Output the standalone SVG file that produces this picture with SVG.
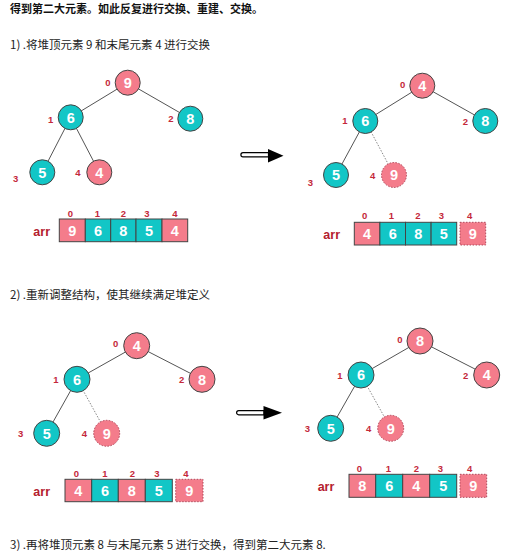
<svg xmlns="http://www.w3.org/2000/svg" width="518" height="557" viewBox="0 0 518 557">
<style>
.t{font-family:"Noto Sans CJK SC","Liberation Sans",sans-serif;font-size:11.5px;fill:#222}
.tb{font-family:"Noto Sans CJK SC","Liberation Sans",sans-serif;font-size:11px;font-weight:bold;fill:#111}
.p{fill:#F47C8B;stroke:#444;stroke-width:1}
.g{fill:#12C6C6;stroke:#444;stroke-width:1}
.pd{fill:#F47C8B;stroke:#B0485A;stroke-width:1;stroke-dasharray:1.5 1.5}
.v{font-family:"Liberation Sans",Arial,sans-serif;font-size:14.5px;font-weight:bold;fill:#fff;text-anchor:middle}
.i{font-family:"Liberation Sans",Arial,sans-serif;font-size:9.5px;font-weight:bold;fill:#C4283A;text-anchor:middle}
.arr{font-family:"Liberation Sans",Arial,sans-serif;font-size:12.5px;font-weight:bold;fill:#B4202E;text-anchor:middle}
.e{stroke:#555;stroke-width:1;fill:none}
.ed{stroke:#888;stroke-width:1;fill:none;stroke-dasharray:1.5 1.5}
.cp{fill:#F47C8B;stroke:#444;stroke-width:1}
.cg{fill:#12C6C6;stroke:#444;stroke-width:1}
.cd{fill:#F47C8B;stroke:#B0485A;stroke-width:1;stroke-dasharray:1.5 1.5}
</style>

<g id="texts">
<text class="tb" x="10" y="13">得到第二大元素。如此反复进行交换、重建、交换。</text>
<text class="t" x="10" y="49">1) .将堆顶元素 9 和末尾元素 4 进行交换</text>
<text class="t" x="10" y="299">2) .重新调整结构，使其继续满足堆定义</text>
<text class="t" x="10" y="549">3) .再将堆顶元素 8 与末尾元素 5 进行交换，得到第二大元素 8.</text>
</g>

<g id="connectors">
<line class="e" x1="127.7" y1="82.7" x2="70.7" y2="117.3"/>
<line class="e" x1="127.7" y1="82.7" x2="190.3" y2="118.7"/>
<line class="e" x1="70.7" y1="117.3" x2="42.3" y2="172.3"/>
<line class="e" x1="70.7" y1="117.3" x2="99.3" y2="172.3"/>

<line class="e" x1="422.3" y1="85.7" x2="365.3" y2="121"/>
<line class="e" x1="422.3" y1="85.7" x2="485.3" y2="121"/>
<line class="e" x1="365.3" y1="121" x2="336" y2="175"/>
<line class="ed" x1="365.3" y1="121" x2="394" y2="175"/>

<line class="e" x1="136.7" y1="345.7" x2="77" y2="379.3"/>
<line class="e" x1="136.7" y1="345.7" x2="202" y2="379.3"/>
<line class="e" x1="77" y1="379.3" x2="46.7" y2="433.3"/>
<line class="ed" x1="77" y1="379.3" x2="106.7" y2="433.3"/>

<line class="e" x1="420" y1="341" x2="361" y2="375"/>
<line class="e" x1="420" y1="341" x2="486.7" y2="375"/>
<line class="e" x1="361" y1="375" x2="330.7" y2="428.3"/>
<line class="ed" x1="361" y1="375" x2="390.7" y2="428.3"/>
</g>

<g id="arrows">
<path d="M268.5,152.7 H243 A2,2 0 0 0 243,156.9 H268.5 Z" fill="#fff" stroke="#000" stroke-width="1.2"/>
<polygon points="268,149 283.5,155.8 268,162.6" fill="#000"/>
<path d="M264,410.6 H238.7 A2,2 0 0 0 238.7,414.8 H264 Z" fill="#fff" stroke="#000" stroke-width="1.2"/>
<polygon points="263.5,406 282,412.7 263.5,419.4" fill="#000"/>
</g>

<!-- Tree A -->
<g id="a0"><circle class="p" cx="127.7" cy="82.7" r="12.5"/><text class="v" x="127.7" y="87.9">9</text><text class="i" x="108" y="86">0</text></g>
<g id="a1"><circle class="g" cx="70.7" cy="117.3" r="12.5"/><text class="v" x="70.7" y="122.5">6</text><text class="i" x="50.7" y="123.3">1</text></g>
<g id="a2"><circle class="g" cx="190.3" cy="118.7" r="12.5"/><text class="v" x="190.3" y="123.9">8</text><text class="i" x="171" y="122.3">2</text></g>
<g id="a3"><circle class="g" cx="42.3" cy="172.3" r="12.5"/><text class="v" x="42.3" y="177.5">5</text><text class="i" x="15.7" y="182.3">3</text></g>
<g id="a4"><circle class="p" cx="99.3" cy="172.3" r="12.5"/><text class="v" x="99.3" y="177.5">4</text><text class="i" x="78" y="176">4</text></g>

<!-- Tree B -->
<g id="b0"><circle class="p" cx="422.3" cy="85.7" r="12.5"/><text class="v" x="422.3" y="90.9">4</text><text class="i" x="402.7" y="88.3">0</text></g>
<g id="b1"><circle class="g" cx="365.3" cy="121" r="12.5"/><text class="v" x="365.3" y="126.2">6</text><text class="i" x="345" y="124.3">1</text></g>
<g id="b2"><circle class="g" cx="485.3" cy="121" r="12.5"/><text class="v" x="485.3" y="126.2">8</text><text class="i" x="465.3" y="125">2</text></g>
<g id="b3"><circle class="g" cx="336" cy="175" r="12.5"/><text class="v" x="336" y="180.2">5</text><text class="i" x="310.3" y="186">3</text></g>
<g id="b4"><circle class="pd" cx="394" cy="175" r="12.5"/><text class="v" x="394" y="180.2">9</text><text class="i" x="372.7" y="179.3">4</text></g>

<!-- Tree C -->
<g id="c0"><circle class="p" cx="136.7" cy="345.7" r="13"/><text class="v" x="136.7" y="350.9">4</text><text class="i" x="115.7" y="347.3">0</text></g>
<g id="c1"><circle class="g" cx="77" cy="379.3" r="13"/><text class="v" x="77" y="384.5">6</text><text class="i" x="56" y="382.6">1</text></g>
<g id="c2"><circle class="p" cx="202" cy="379.3" r="13"/><text class="v" x="202" y="384.5">8</text><text class="i" x="181.7" y="383.3">2</text></g>
<g id="c3"><circle class="g" cx="46.7" cy="433.3" r="13"/><text class="v" x="46.7" y="438.5">5</text><text class="i" x="20.7" y="437.3">3</text></g>
<g id="c4"><circle class="pd" cx="106.7" cy="433.3" r="13"/><text class="v" x="106.7" y="438.5">9</text><text class="i" x="84.3" y="437.3">4</text></g>

<!-- Tree D -->
<g id="d0"><circle class="p" cx="420" cy="341" r="13"/><text class="v" x="420" y="346.2">8</text><text class="i" x="400" y="343.3">0</text></g>
<g id="d1"><circle class="g" cx="361" cy="375" r="13"/><text class="v" x="361" y="380.2">6</text><text class="i" x="340" y="379">1</text></g>
<g id="d2"><circle class="p" cx="486.7" cy="375" r="13"/><text class="v" x="486.7" y="380.2">4</text><text class="i" x="465.7" y="379">2</text></g>
<g id="d3"><circle class="g" cx="330.7" cy="428.3" r="13"/><text class="v" x="330.7" y="433.5">5</text><text class="i" x="307.3" y="432.3">3</text></g>
<g id="d4"><circle class="pd" cx="390.7" cy="428.3" r="13"/><text class="v" x="390.7" y="433.5">9</text><text class="i" x="368.7" y="432.3">4</text></g>

<!-- Array A -->
<g id="arrA">
<text class="arr" x="41.7" y="235.5">arr</text>
<rect class="cp" x="59.3" y="219" width="26" height="22.7"/>
<rect class="cg" x="85.3" y="219" width="25.4" height="22.7"/>
<rect class="cg" x="110.7" y="219" width="25.3" height="22.7"/>
<rect class="cg" x="136" y="219" width="26" height="22.7"/>
<rect class="cp" x="162" y="219" width="25.7" height="22.7"/>
<text class="v" x="72.3" y="235.6">9</text><text class="v" x="98" y="235.6">6</text><text class="v" x="123.4" y="235.6">8</text><text class="v" x="149" y="235.6">5</text><text class="v" x="174.9" y="235.6">4</text>
<text class="i" x="70.5" y="216.6">0</text><text class="i" x="97.5" y="216.6">1</text><text class="i" x="123.5" y="216.6">2</text><text class="i" x="147" y="216.6">3</text><text class="i" x="175" y="216.6">4</text>
</g>

<!-- Array B -->
<g id="arrB">
<text class="arr" x="331.7" y="238.5">arr</text>
<rect class="cp" x="354.3" y="222.3" width="25.6" height="22.7"/>
<rect class="cg" x="379.9" y="222.3" width="25.6" height="22.7"/>
<rect class="cg" x="405.5" y="222.3" width="25.6" height="22.7"/>
<rect class="cg" x="431.1" y="222.3" width="25.6" height="22.7"/>
<rect class="cd" x="460" y="222.3" width="25.7" height="22.7"/>
<text class="v" x="367.1" y="238.9">4</text><text class="v" x="392.7" y="238.9">6</text><text class="v" x="418.3" y="238.9">8</text><text class="v" x="443.9" y="238.9">5</text><text class="v" x="472.9" y="238.9">9</text>
<text class="i" x="364.7" y="219">0</text><text class="i" x="391.3" y="219">1</text><text class="i" x="418" y="219">2</text><text class="i" x="441.3" y="219">3</text><text class="i" x="469.7" y="219">4</text>
</g>

<!-- Array C -->
<g id="arrC">
<text class="arr" x="41.7" y="496">arr</text>
<rect class="cp" x="65" y="479.3" width="26.7" height="22.4"/>
<rect class="cg" x="91.7" y="479.3" width="26.6" height="22.4"/>
<rect class="cp" x="118.3" y="479.3" width="27" height="22.4"/>
<rect class="cg" x="145.3" y="479.3" width="27" height="22.4"/>
<rect class="cd" x="175.7" y="479.3" width="27.3" height="22.4"/>
<text class="v" x="78.3" y="495.7">4</text><text class="v" x="105" y="495.7">6</text><text class="v" x="131.8" y="495.7">8</text><text class="v" x="158.8" y="495.7">5</text><text class="v" x="189.3" y="495.7">9</text>
<text class="i" x="76.5" y="476.6">0</text><text class="i" x="105" y="476.6">1</text><text class="i" x="132.5" y="476.6">2</text><text class="i" x="157" y="476.6">3</text><text class="i" x="186" y="476.6">4</text>
</g>

<!-- Array D -->
<g id="arrD">
<text class="arr" x="326" y="491">arr</text>
<rect class="cp" x="349" y="474.3" width="26.7" height="23"/>
<rect class="cg" x="375.7" y="474.3" width="27" height="23"/>
<rect class="cp" x="402.7" y="474.3" width="27" height="23"/>
<rect class="cg" x="429.7" y="474.3" width="27" height="23"/>
<rect class="cd" x="460" y="474.3" width="26.7" height="23"/>
<text class="v" x="362.3" y="491">8</text><text class="v" x="389.2" y="491">6</text><text class="v" x="416.2" y="491">4</text><text class="v" x="443.2" y="491">5</text><text class="v" x="473.3" y="491">9</text>
<text class="i" x="359.3" y="471.6">0</text><text class="i" x="388.3" y="471.6">1</text><text class="i" x="416.3" y="471.6">2</text><text class="i" x="440.3" y="471.6">3</text><text class="i" x="469.7" y="471.6">4</text>
</g>
</svg>
